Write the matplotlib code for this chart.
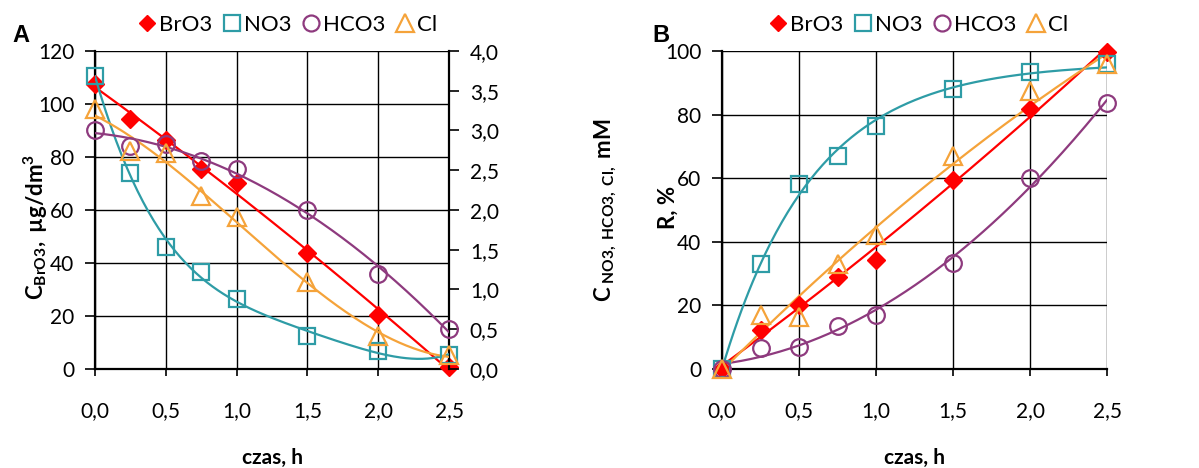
import numpy as np
import matplotlib
matplotlib.use("Agg")
import matplotlib.pyplot as plt
from matplotlib.lines import Line2D

FONT = 'Lato'
plt.rcParams['font.family'] = [FONT, 'DejaVu Sans']
plt.rcParams['mathtext.fontset'] = 'custom'
plt.rcParams['mathtext.rm'] = FONT
plt.rcParams['mathtext.bf'] = FONT + ':bold'
plt.rcParams['mathtext.it'] = FONT + ':italic'

# ---- data ----
t = [0.0, 0.25, 0.5, 0.75, 1.0, 1.5, 2.0, 2.5]

# Panel A: concentrations
bro3_conc = [107.4, 94.5, 86.5, 75.6, 70.2, 43.9, 20.3, 0.8]        # ug/dm3
no3_conc = [3.68, 2.47, 1.53, 1.22, 0.88, 0.42, 0.23, 0.18]          # mM
hco3_conc = [3.01, 2.81, 2.83, 2.62, 2.51, 2.00, 1.20, 0.50]         # mM
cl_conc = [3.27, 2.74, 2.72, 2.18, 1.91, 1.09, 0.42, 0.17]           # mM

# Panel B: removal, %
bro3_r = [0.0, 12.2, 20.0, 28.9, 34.2, 59.5, 81.7, 99.7]
no3_r = [0.0, 33.1, 58.3, 67.0, 76.3, 88.2, 93.4, 95.8]
hco3_r = [0.0, 6.6, 6.8, 13.5, 16.9, 33.4, 60.1, 83.6]
cl_r = [0.0, 16.9, 16.4, 33.1, 42.0, 66.9, 87.4, 96.0]

labels = ['BrO3', 'NO3', 'HCO3', 'Cl']
x_ticks = [0.0, 0.5, 1.0, 1.5, 2.0, 2.5]
x_tick_labels = ['0,0', '0,5', '1,0', '1,5', '2,0', '2,5']
yA_ticks = [0, 20, 40, 60, 80, 100, 120]
yA2_ticks = [0.0, 0.5, 1.0, 1.5, 2.0, 2.5, 3.0, 3.5, 4.0]
yB_ticks = [0, 20, 40, 60, 80, 100]

# ---- styles ----
RED = '#FF0000'
TEAL = '#2E9CA6'
PURPLE = '#8E3A7E'
ORANGE = '#F5A33A'
styles = {
    'BrO3': dict(marker='D', color=RED, ms=9, mfc=RED, mew=1.0),
    'NO3': dict(marker='s', color=TEAL, ms=12, mfc='none', mew=1.6),
    'HCO3': dict(marker='o', color=PURPLE, ms=12, mfc='none', mew=1.6),
    'Cl': dict(marker='^', color=ORANGE, ms=13, mfc='none', mew=1.6),
}
FS = 15

fig = plt.figure(figsize=(11.99, 4.68), dpi=100)
XX = np.linspace(0, 2.5, 200)

def trend(ax, x, y, deg, color):
    c = np.polyfit(x, y, deg)
    ax.plot(XX, np.polyval(c, XX), color=color, lw=1.6, zorder=3)

def trend_sat(ax, x, y, color):
    # saturating fit y = a*(1 - exp(-k x)), k by grid search, a by least squares
    x = np.asarray(x); y = np.asarray(y)
    best = None
    for k in np.linspace(0.2, 6, 600):
        f = 1 - np.exp(-k * x)
        a = (f @ y) / (f @ f)
        err = np.sum((a * f - y) ** 2)
        if best is None or err < best[0]:
            best = (err, a, k)
    _, a, k = best
    ax.plot(XX, a * (1 - np.exp(-k * XX)), color=color, lw=1.6, zorder=3)

def pts(ax, x, y, name):
    s = styles[name]
    ax.plot(x, y, ls='none', marker=s['marker'], ms=s['ms'], mfc=s['mfc'],
            mec=s['color'], mew=s['mew'], zorder=4, clip_on=False)

def style_axes(ax):
    ax.set_xlim(0, 2.5)
    ax.set_xticks(x_ticks)
    ax.set_xticklabels(x_tick_labels)
    ax.grid(True, color='black', lw=1.0)
    ax.set_axisbelow(True)
    for sp in ['top', 'right']:
        ax.spines[sp].set_visible(False)
    ax.spines['left'].set_linewidth(1.6)
    ax.spines['bottom'].set_linewidth(1.6)
    ax.tick_params(axis='x', labelsize=FS, length=5, width=1.2, pad=18, direction='out')
    ax.tick_params(axis='y', labelsize=FS, length=7, width=1.2, pad=8, direction='out')

# ---- panel A ----
axA = fig.add_axes([95/1199, 1-369/468, (449-95)/1199, (369-51)/468])
style_axes(axA)
axA.set_ylim(0, 120)
axA.set_yticks(yA_ticks)
axA.set_yticklabels([str(v) for v in yA_ticks])
axA2 = axA.twinx()
axA2.set_ylim(0, 4.0)
axA2.set_yticks(yA2_ticks)
axA2.set_yticklabels([f'{v:.1f}'.replace('.', ',') for v in yA2_ticks])
for sp in ['top', 'left', 'bottom']:
    axA2.spines[sp].set_visible(False)
axA2.spines['right'].set_linewidth(1.6)
axA2.tick_params(axis='y', labelsize=FS, length=7, width=1.2, pad=8)

trend(axA, t, bro3_conc, 2, RED)
trend(axA2, t, no3_conc, 4, TEAL)
trend(axA2, t, hco3_conc, 2, PURPLE)
trend(axA2, t, cl_conc, 3, ORANGE)
pts(axA, t, bro3_conc, 'BrO3')
pts(axA2, t, no3_conc, 'NO3')
pts(axA2, t, hco3_conc, 'HCO3')
pts(axA2, t, cl_conc, 'Cl')

# ---- panel B ----
axB = fig.add_axes([722/1199, 1-369/468, (1107-722)/1199, (369-51)/468])
style_axes(axB)
axB.set_ylim(0, 100)
axB.set_yticks(yB_ticks)
axB.set_yticklabels([str(v) for v in yB_ticks])
trend(axB, t, bro3_r, 2, RED)
trend_sat(axB, t, no3_r, TEAL)
trend(axB, t, hco3_r, 2, PURPLE)
trend(axB, t, cl_r, 2, ORANGE)
pts(axB, t, bro3_r, 'BrO3')
pts(axB, t, no3_r, 'NO3')
pts(axB, t, hco3_r, 'HCO3')
pts(axB, t, cl_r, 'Cl')

# ---- labels ----
fig.text(272/1199, 1-458/468, 'czas, h', ha='center', va='center', fontsize=FS, fontweight='bold')
fig.text(914/1199, 1-458/468, 'czas, h', ha='center', va='center', fontsize=FS, fontweight='bold')
fig.text(36/1199, 1-227/468, r'$\mathbf{C}_{\mathbf{BrO3}}\mathbf{,\ µg/dm^3}$',
         rotation=90, ha='center', va='center', fontsize=FS + 1)
fig.text(605/1199, 1-210/468, r'$\mathbf{C}_{\mathbf{\ NO3,\ HCO3,\ Cl,}}\mathbf{\ mM}$',
         rotation=90, ha='center', va='center', fontsize=FS + 1)
fig.text(668/1199, 1-207/468, 'R, %', rotation=90, ha='center', va='center',
         fontsize=FS + 1, fontweight='bold')
fig.text(12/1199, 1-35/468, 'A', ha='left', va='center', fontsize=17, fontweight='bold',
         family='Liberation Sans')
fig.text(652/1199, 1-35/468, 'B', ha='left', va='center', fontsize=17, fontweight='bold',
         family='Liberation Sans')

handles = []
for name in labels:
    s = styles[name]
    handles.append(Line2D([], [], ls='none', marker=s['marker'], ms=s['ms'] - 0.5,
                          mfc=s['mfc'], mec=s['color'], mew=s['mew']))
for cx in (287, 918):
    fig.legend(handles, labels, loc='center', bbox_to_anchor=(cx/1199, 1-25/468),
               ncol=4, frameon=False, fontsize=FS + 1, handlelength=0.85,
               handletextpad=0.12, columnspacing=0.45, borderaxespad=0, borderpad=0)

fig.savefig('out.png', dpi=100)
